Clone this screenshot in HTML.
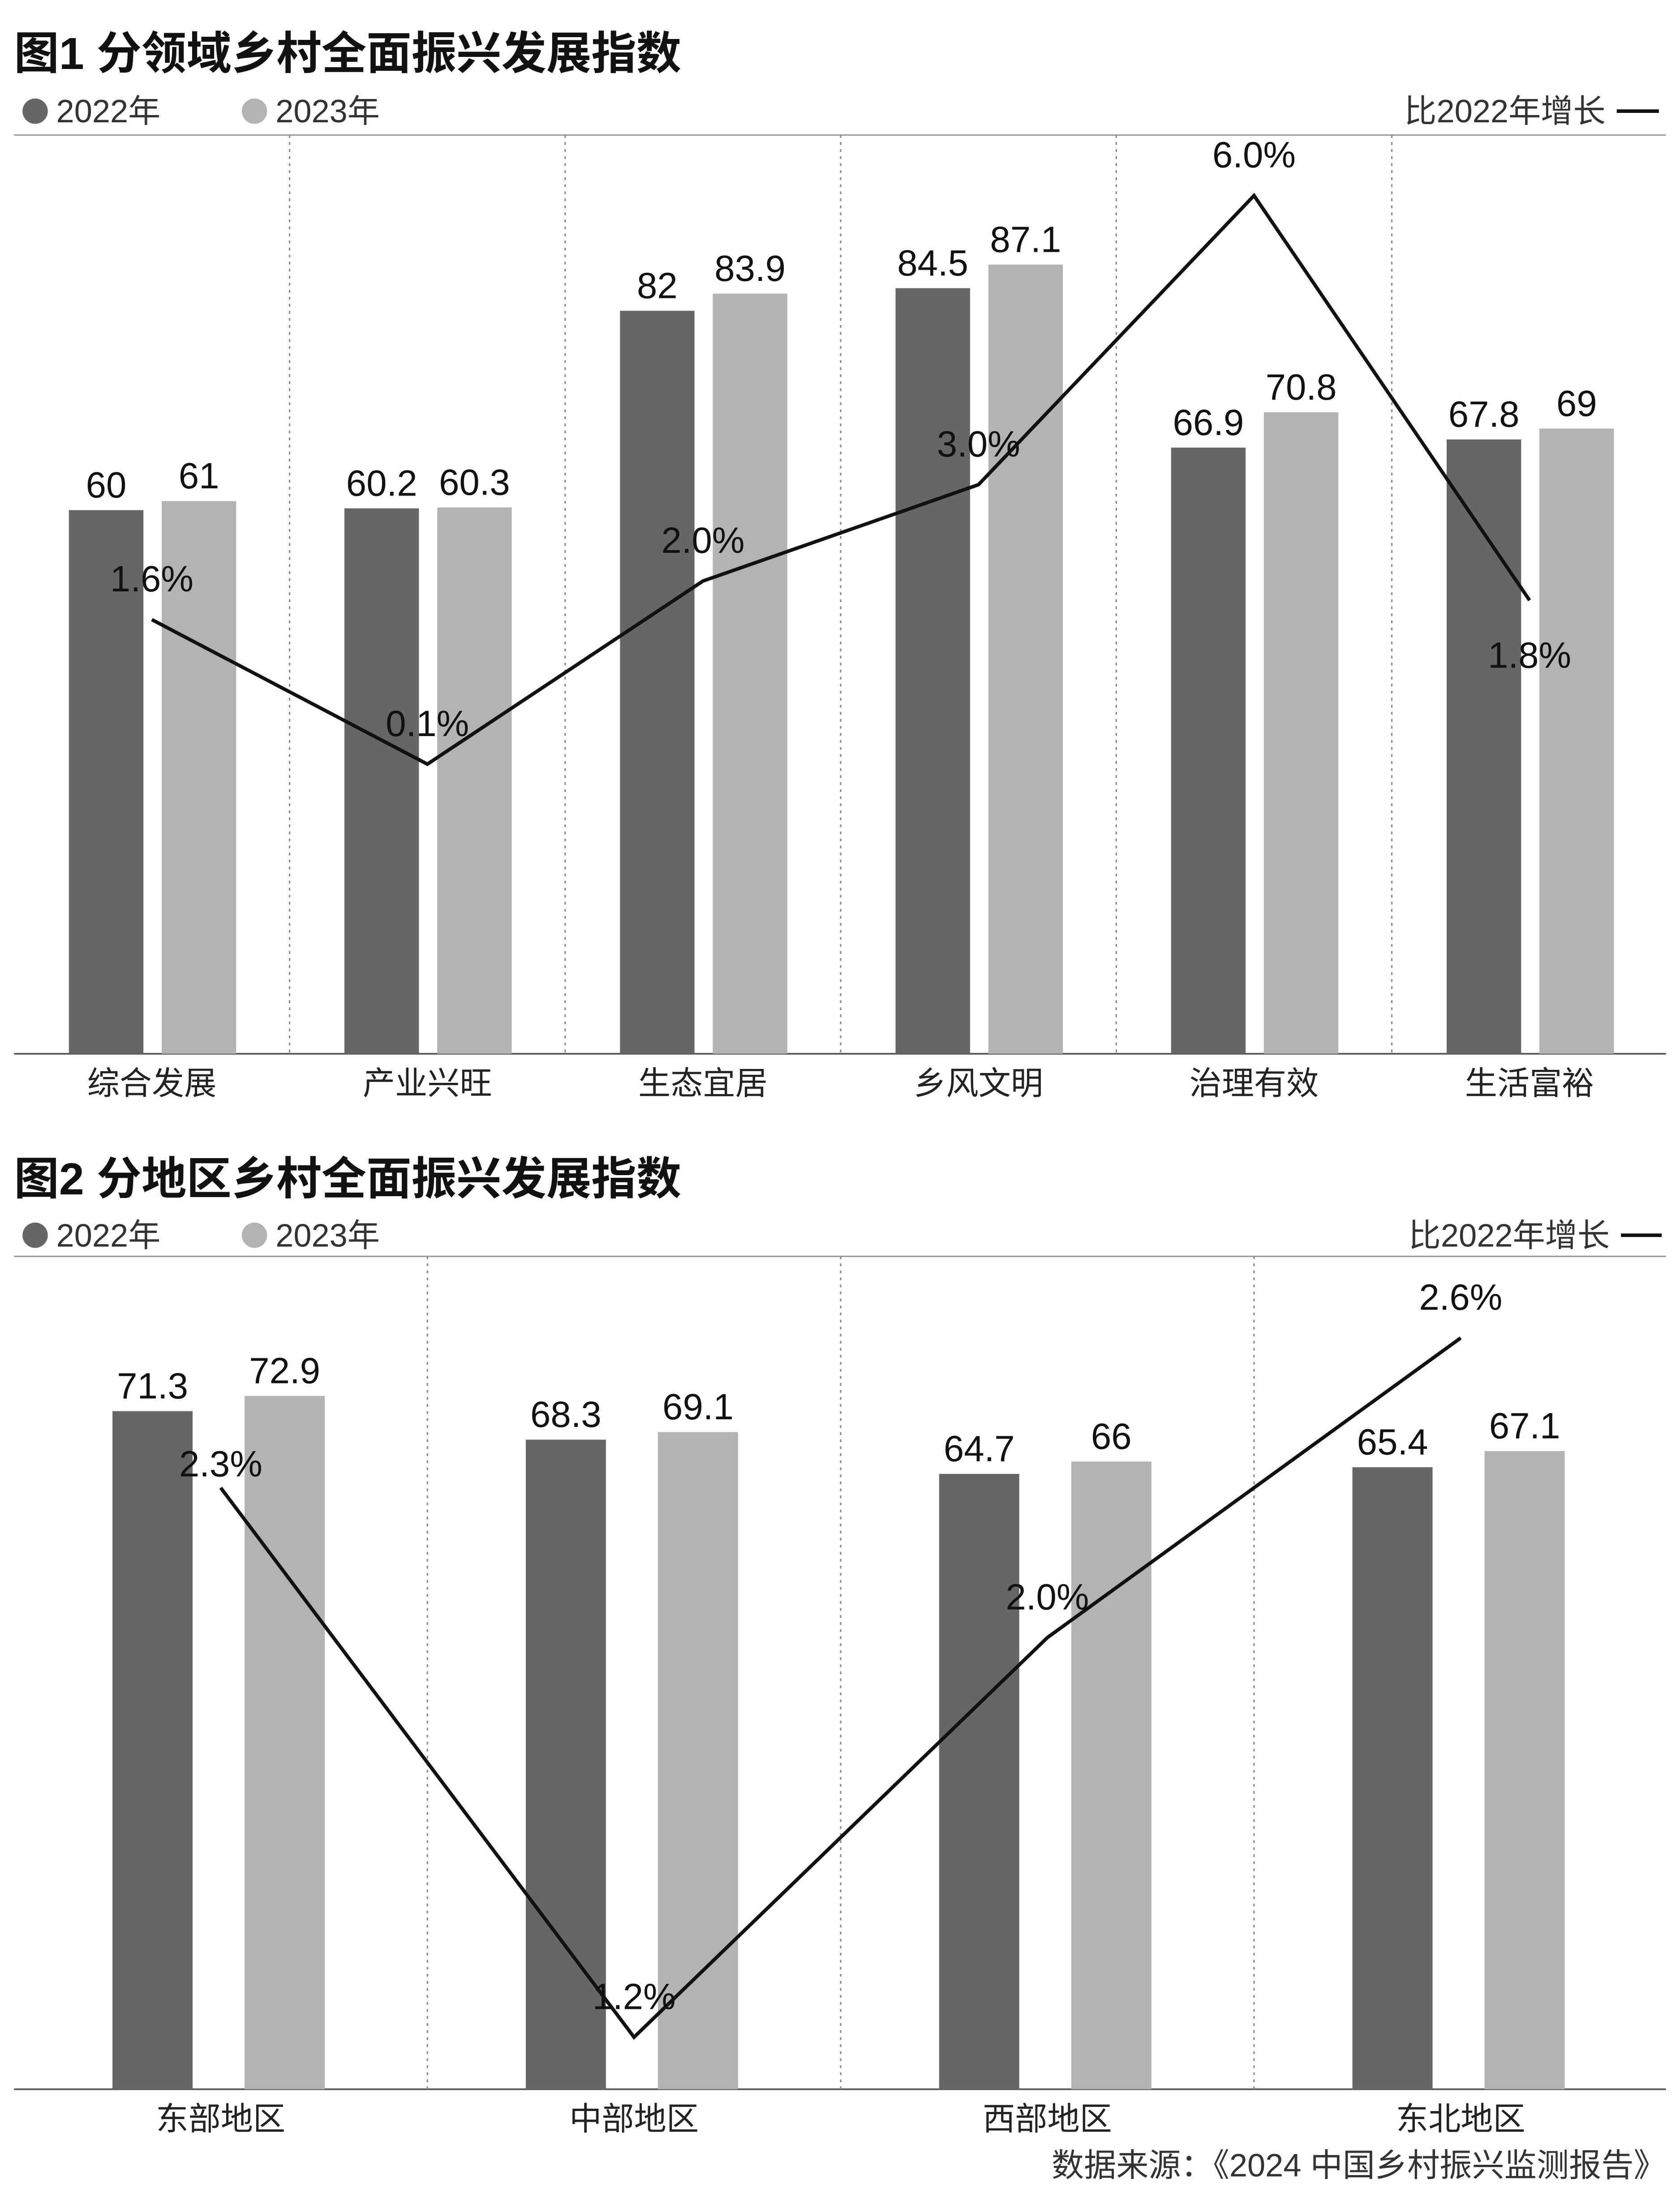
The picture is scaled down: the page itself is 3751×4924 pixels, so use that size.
<!DOCTYPE html>
<html><head><meta charset="utf-8"><style>
html,body{margin:0;padding:0;background:#fff;}
svg{display:block;font-family:"Liberation Sans","Noto Sans CJK SC",sans-serif;}
.num{font-family:"Liberation Sans Narrow","Liberation Sans","Noto Sans CJK SC",sans-serif;font-size:26px;fill:#111;text-anchor:middle;}
.cat{font-size:23px;fill:#222;text-anchor:middle;}
.leg{font-size:23px;fill:#333;}
.ttl{font-size:32px;font-weight:bold;fill:#111;}
</style></head><body>
<svg id="svg" width="3751" height="4924" viewBox="0 0 1195 1568" preserveAspectRatio="none">
<text class="ttl" x="10" y="49">图1 分领域乡村全面振兴发展指数</text>
<circle cx="25" cy="79" r="9" fill="#666"/>
<text class="leg" x="40" y="87">2022年</text>
<circle cx="181" cy="79" r="9" fill="#b3b3b3"/>
<text class="leg" x="196" y="87">2023年</text>
<text class="leg" x="1142" y="87" text-anchor="end">比2022年增长</text>
<line x1="1150" y1="79" x2="1180" y2="79" stroke="#111" stroke-width="2.5"/>
<line x1="10" y1="96" x2="1185" y2="96" stroke="#999" stroke-width="1"/>
<line x1="10" y1="749" x2="1185" y2="749" stroke="#555" stroke-width="1.2"/>

<text class="ttl" x="10" y="849">图2 分地区乡村全面振兴发展指数</text>
<circle cx="25" cy="878" r="9" fill="#666"/>
<text class="leg" x="40" y="886">2022年</text>
<circle cx="181" cy="878" r="9" fill="#b3b3b3"/>
<text class="leg" x="196" y="886">2023年</text>
<text class="leg" x="1145" y="886" text-anchor="end">比2022年增长</text>
<line x1="1153" y1="878" x2="1182" y2="878" stroke="#111" stroke-width="2.5"/>
<line x1="10" y1="893" x2="1185" y2="893" stroke="#999" stroke-width="1"/>
<line x1="10" y1="1485" x2="1185" y2="1485" stroke="#555" stroke-width="1.2"/>
<text class="leg" x="1185" y="1547" text-anchor="end">数据来源：《2024 中国乡村振兴监测报告》</text>
</svg>
<script>
const cats1 = ["综合发展","产业兴旺","生态宜居","乡风文明","治理有效","生活富裕"];
const v2022a = [60, 60.2, 82, 84.5, 66.9, 67.8];
const v2023a = [61, 60.3, 83.9, 87.1, 70.8, 69];
const growthA = [1.6, 0.1, 2.0, 3.0, 6.0, 1.8];
const labels2022a = ["60","60.2","82","84.5","66.9","67.8"];
const labels2023a = ["61","60.3","83.9","87.1","70.8","69"];

const cats2 = ["东部地区","中部地区","西部地区","东北地区"];
const v2022b = [71.3, 68.3, 64.7, 65.4];
const v2023b = [72.9, 69.1, 66, 67.1];
const growthB = [2.3, 1.2, 2.0, 2.6];
const labels2022b = ["71.3","68.3","64.7","65.4"];
const labels2023b = ["72.9","69.1","66","67.1"];

const NS = "http://www.w3.org/2000/svg";
const svg = document.getElementById("svg");
function mk(tag, attrs){const e=document.createElementNS(NS,tag);for(const k in attrs)e.setAttribute(k,attrs[k]);svg.appendChild(e);return e;}

function drawChart(p, cats, a, b, g, la, lb, prefix){
  const colW = (p.right - p.left)/cats.length;
  const cx = i => p.left + colW*(i+0.5);
  const yV = v => p.base - v*p.k;
  const yG = v => p.ga - v*p.gb;
  for(let i=1;i<cats.length;i++){
    const s = mk("line",{x1:p.left+colW*i,x2:p.left+colW*i,y1:p.top,y2:p.base,stroke:"#888","stroke-width":1,"stroke-dasharray":"2,3"});
    
    
  }
  cats.forEach((c,i)=>{
    const r1 = mk("rect",{x:cx(i)+p.d1,y:yV(a[i]),width:p.bw,height:p.base-yV(a[i]),fill:"#666"});
    
    
    const r2 = mk("rect",{x:cx(i)+p.d2,y:yV(b[i]),width:p.bw,height:p.base-yV(b[i]),fill:"#b3b3b3"});
    
    
    const t1 = mk("text",{x:cx(i)+p.d1+p.bw/2,y:yV(a[i])-9,class:"num"}); t1.textContent=la[i];
    
    
    const t2 = mk("text",{x:cx(i)+p.d2+p.bw/2,y:yV(b[i])-9,class:"num"}); t2.textContent=lb[i];
    
    
    const ct = mk("text",{x:cx(i),y:p.base+29,class:"cat"}); ct.textContent=c;
    
    
  });
  const pts = g.map((v,i)=>cx(i)+","+yG(v)).join(" ");
  const pl = mk("polyline",{points:pts,fill:"none",stroke:"#111","stroke-width":2.5,"stroke-linejoin":"miter"});
  
  
  g.forEach((v,i)=>{
    const t = mk("text",{x:cx(i),y:yG(v)+p.off(i),class:"num"}); t.textContent=v.toFixed(1)+"%";
    
    
  });
}
drawChart({left:10,right:1186,top:96,base:749,k:6.44,bw:53,d1:-59,d2:7,ga:550,gb:68.5,
  off:i=> i===growthA.length-1 ? 48 : -20}, cats1, v2022a, v2023a, growthA, labels2022a, labels2023a, "chart1");
drawChart({left:10,right:1186,top:893,base:1485,k:6.76,bw:57,d1:-77,d2:17,ga:1874,gb:355,
  off:i=> i===0 ? -8 : -20}, cats2, v2022b, v2023b, growthB, labels2022b, labels2023b, "chart2");
</script>
</body></html>
